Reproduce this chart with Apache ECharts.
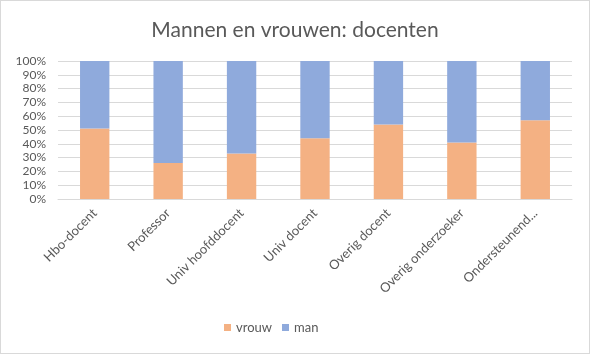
<!DOCTYPE html>
<html>
<head>
<meta charset="utf-8">
<script src="https://cdn.jsdelivr.net/npm/echarts@6/dist/echarts.min.js"></script>
<style>
  html, body { margin: 0; padding: 0; background: #fff; }
  #chart { width: 588px; height: 352px; border: 1px solid #d9d9d9; }
</style>
</head>
<body>
<div id="chart"></div>
<script>
const categories = ['Hbo-docent', 'Professor', 'Univ hoofddocent', 'Univ docent', 'Overig docent', 'Overig onderzoeker', 'Ondersteunend...']
const vrouw = [51, 26, 33, 44, 54, 41, 57]
const man = [49, 74, 67, 56, 46, 59, 43]
const seriesNames = ['vrouw', 'man']
const colors = ['#F4B183', '#8FAADC']
const textColor = '#595959'
const font = 'Lato, "Noto Sans", sans-serif'

const chart = echarts.init(document.getElementById('chart'))
chart.setOption({
  animation: false,
  textStyle: { fontFamily: font },
  title: {
    text: 'Mannen en vrouwen: docenten',
    left: 'center',
    top: 14,
    textStyle: { color: textColor, fontSize: 21, fontWeight: 'normal', fontFamily: font }
  },
  legend: {
    bottom: 14,
    left: 218,
    icon: 'rect',
    itemWidth: 7,
    itemHeight: 7,
    itemGap: 10,
    textStyle: { color: textColor, fontSize: 13, fontFamily: font },
    data: seriesNames
  },
  grid: { left: 57, right: 17, top: 60, bottom: 154 },
  xAxis: {
    type: 'category',
    data: categories,
    axisLine: { show: true, lineStyle: { color: '#d9d9d9' } },
    axisTick: { show: false },
    axisLabel: { rotate: 45, color: textColor, fontSize: 13, margin: 12, interval: 0, fontFamily: font }
  },
  yAxis: {
    type: 'value',
    min: 0,
    max: 100,
    interval: 10,
    axisLine: { show: false },
    axisTick: { show: false },
    splitLine: { lineStyle: { color: '#d9d9d9' } },
    axisLabel: { formatter: '{value}%', color: textColor, fontSize: 12, margin: 12, fontFamily: font }
  },
  series: [
    { name: seriesNames[0], type: 'bar', stack: 'total', data: vrouw, barWidth: '40%', itemStyle: { color: colors[0] } },
    { name: seriesNames[1], type: 'bar', stack: 'total', data: man, barWidth: '40%', itemStyle: { color: colors[1] } }
  ]
})
</script>
</body>
</html>
